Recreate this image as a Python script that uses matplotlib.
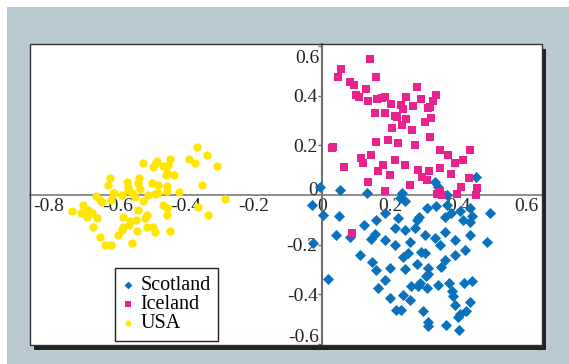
import matplotlib
matplotlib.use("Agg")
import matplotlib.pyplot as plt
from matplotlib.patches import Rectangle

plt.rcParams["font.family"] = ["Liberation Serif", "DejaVu Serif"]

# ---- data: first two ordination coordinates per sample ----
usa_x = [-0.367, -0.338, -0.389, -0.372, -0.307, -0.446, -0.483, -0.490, -0.524, -0.467,
         -0.451, -0.495, -0.455, -0.457, -0.433, -0.622, -0.536, -0.539, -0.573, -0.499,
         -0.480, -0.454, -0.353, -0.568, -0.534, -0.455, -0.418, -0.610, -0.558, -0.509,
         -0.490, -0.661, -0.651, -0.548, -0.524, -0.617, -0.284, -0.700, -0.734, -0.685,
         -0.646, -0.539, -0.465, -0.455, -0.363, -0.675, -0.690, -0.659, -0.584, -0.563,
         -0.545, -0.519, -0.455, -0.333, -0.672, -0.583, -0.565, -0.514, -0.495, -0.543,
         -0.587, -0.490, -0.446, -0.597, -0.651, -0.558, -0.636, -0.617, -0.705, -0.628,
         -0.613, -0.587, -0.568, -0.480, -0.514]
usa_y = [0.193, 0.162, 0.144, 0.131, 0.117, 0.147, 0.139, 0.125, 0.128, 0.117,
         0.120, 0.112, 0.090, 0.081, 0.081, 0.067, 0.067, 0.050, 0.054, 0.047,
         0.040, 0.036, 0.040, 0.031, 0.023, 0.016, 0.013, 0.009, 0.007, 0.000,
         0.004, -0.004, -0.020, -0.007, -0.023, -0.020, -0.017, -0.040, -0.063, -0.061,
         -0.027, -0.061, -0.040, -0.054, -0.050, -0.072, -0.090, -0.094, -0.090, -0.104,
         -0.101, -0.094, -0.081, -0.081, -0.128, -0.131, -0.121, -0.131, -0.128, -0.144,
         -0.141, -0.148, -0.145, -0.162, -0.171, -0.195, -0.202, -0.202, -0.074, 0.040,
         0.008, 0.000, 0.020, 0.007, -0.081]

iceland_x = [0.141, 0.055, 0.046, 0.160, 0.082, 0.094, 0.129, 0.100, 0.109, 0.136,
             0.162, 0.155, 0.160, 0.033, 0.030, 0.143, 0.116, 0.121, 0.065, 0.165,
             0.136, 0.087, 0.278, 0.336, 0.185, 0.175, 0.246, 0.292, 0.325, 0.204,
             0.231, 0.268, 0.317, 0.312, 0.237, 0.185, 0.214, 0.221, 0.248, 0.319,
             0.205, 0.235, 0.264, 0.302, 0.194, 0.223, 0.273, 0.317, 0.346, 0.370,
             0.413, 0.434, 0.214, 0.243, 0.282, 0.346, 0.390, 0.258, 0.308, 0.199,
             0.179, 0.295, 0.380, 0.432, 0.408, 0.454, 0.452, 0.395, 0.338, 0.346,
             0.351, 0.314, 0.185]
iceland_y = [0.548, 0.508, 0.476, 0.478, 0.458, 0.444, 0.428, 0.404, 0.397, 0.381,
             0.387, 0.333, 0.215, 0.195, 0.189, 0.162, 0.148, 0.131, 0.114, 0.098,
             0.054, -0.152, 0.435, 0.404, 0.397, 0.393, 0.395, 0.387, 0.380, 0.368,
             0.364, 0.360, 0.357, 0.350, 0.346, 0.333, 0.319, 0.314, 0.306, 0.310,
             0.271, 0.283, 0.263, 0.295, 0.222, 0.210, 0.202, 0.234, 0.182, 0.162,
             0.141, 0.182, 0.141, 0.121, 0.101, 0.109, 0.129, 0.040, 0.061, 0.081,
             0.121, 0.072, 0.084, 0.067, 0.034, 0.027, -0.002, 0.004, 0.004, 0.013,
             0.000, 0.098, 0.016]

scotland_x = [-0.006, 0.131, -0.030, 0.002, 0.051, 0.041, 0.123, 0.158, 0.155, 0.082,
              0.143, -0.026, 0.160, 0.017, 0.331, 0.341, 0.367, 0.452, 0.185, 0.229,
              0.243, 0.307, 0.336, 0.380, 0.405, 0.439, 0.493, 0.285, 0.224, 0.361,
              0.234, 0.366, 0.434, 0.278, 0.414, 0.434, 0.238, 0.253, 0.292, 0.302,
              0.199, 0.243, 0.279, 0.312, 0.348, 0.305, 0.312, 0.261, 0.287, 0.282,
              0.309, 0.341, 0.373, 0.416, 0.439, 0.383, 0.385, 0.238, 0.390, 0.434,
              0.217, 0.231, 0.297, 0.405, 0.400, 0.424, 0.312, 0.310, 0.364, 0.403,
              0.185, 0.214, 0.258, 0.302, 0.331, 0.361, 0.390, 0.434, 0.484, 0.111,
              0.147, 0.185, 0.164, 0.199, 0.258, 0.053, 0.214, 0.243, 0.273, 0.346,
              0.390, 0.419, 0.361]
scotland_y = [0.034, 0.009, -0.040, -0.081, -0.086, -0.162, -0.121, -0.103, -0.156, -0.168,
              -0.179, -0.193, -0.303, -0.338, 0.054, 0.031, 0.000, 0.074, -0.072, -0.013,
              -0.023, -0.054, -0.044, -0.074, -0.063, -0.085, -0.072, -0.090, -0.094, -0.090,
              0.009, -0.040, -0.054, -0.101, -0.101, -0.108, -0.252, -0.233, -0.229, -0.236,
              -0.296, -0.300, -0.279, -0.296, -0.290, -0.327, -0.319, -0.368, -0.357, -0.368,
              -0.377, -0.364, -0.354, -0.354, -0.346, -0.387, -0.408, -0.404, -0.444, -0.431,
              -0.465, -0.465, -0.469, -0.481, -0.492, -0.469, -0.512, -0.529, -0.525, -0.545,
              -0.182, -0.202, -0.190, -0.162, -0.174, -0.149, -0.182, -0.162, -0.190, -0.242,
              -0.271, -0.343, -0.376, -0.416, -0.424, 0.020, -0.133, -0.141, -0.133, -0.202,
              -0.242, -0.222, -0.263]

x_ticks = [-0.8, -0.6, -0.4, -0.2, 0.0, 0.2, 0.4, 0.6]
y_ticks = [-0.6, -0.4, -0.2, 0.2, 0.4, 0.6]

BLUE = "#0a72bd"
PINK = "#e8238e"
YELLOW = "#ffe600"
PANEL = "#b9cad3"
INK = "#222222"

W, H = 569, 364
fig = plt.figure(figsize=(W / 100, H / 100), dpi=100, facecolor="white")


def fx(px):
    return px / W


def fy(py):
    return 1 - py / H


# coloured backdrop and the drop shadow behind the plot box
fig.patches.append(Rectangle((fx(7), 0), 1 - fx(7), fy(7), transform=fig.transFigure,
                             fc=PANEL, ec="none", zorder=-3))
L, T, R, B = 30, 44, 541.5, 345
fig.patches.append(Rectangle((fx(L + 4), fy(B + 5)), fx(R - L), (B - T) / H,
                             transform=fig.transFigure, fc=INK, ec="none", zorder=-2))

ax = fig.add_axes([fx(L), fy(B), fx(R - L), (B - T) / H])
ax.set_facecolor("white")
ax.set_xlim(-0.856, 0.644)
ax.set_ylim(-0.606, 0.610)

ax.add_patch(Rectangle((0, 0), 1, 1, transform=ax.transAxes, fill=False,
                       ec="#333333", lw=1.0, clip_on=False, zorder=5))

for s in ("top", "right"):
    ax.spines[s].set_visible(False)
ax.spines["left"].set_position(("data", 0))
ax.spines["bottom"].set_position(("data", 0))
ax.spines["left"].set_color("#6e6e6e")
ax.spines["left"].set_linewidth(1.5)
ax.spines["bottom"].set_color("#7a7a7a")
ax.spines["bottom"].set_linewidth(1.2)

ax.set_xticks(x_ticks)
ax.set_xticklabels(["%g" % v for v in x_ticks])
ax.set_yticks(y_ticks)
# the outermost y labels are pulled inside the box, drawn separately below
ax.set_yticklabels(["" if abs(v) == 0.6 else "%g" % v for v in y_ticks])
ax.tick_params(axis="x", length=0, pad=2, labelsize=14, colors=INK)
ax.tick_params(axis="y", length=3, width=1, direction="out", pad=0, labelsize=14,
               colors="#6e6e6e", labelcolor=INK)

ylabel_kw = dict(textcoords="offset points", ha="right", va="center", fontsize=14, color=INK)
ax.annotate("%g" % y_ticks[-1], xy=(0, y_ticks[-1]), xytext=(-2, -8.3), **ylabel_kw)
ax.annotate("%g" % y_ticks[0], xy=(0, y_ticks[0]), xytext=(-2, 4.3), **ylabel_kw)
ax.annotate("0", xy=(0, 0), xytext=(-3, 0), textcoords="offset points",
            ha="right", va="baseline", fontsize=14, color=INK)

ax.scatter(scotland_x, scotland_y, marker="D", s=32, c=BLUE, lw=0, zorder=3, label="Scotland")
ax.scatter(iceland_x, iceland_y, marker="s", s=28, c=PINK, lw=0, zorder=3, label="Iceland")
ax.scatter(usa_x, usa_y, marker="o", s=36, c=YELLOW, lw=0, zorder=3, label="USA")

leg = ax.legend(loc="upper left", bbox_to_anchor=(fx(115), fy(268)),
                bbox_transform=fig.transFigure, fontsize=14.5, frameon=True,
                fancybox=False, edgecolor=INK, framealpha=1,
                handlelength=0.5, handletextpad=0.35, labelspacing=0.0,
                borderpad=0.4, borderaxespad=0, markerscale=0.7)
leg.get_frame().set_linewidth(1.0)
leg.set_zorder(6)

fig.savefig("out.png", dpi=100, facecolor="white")
